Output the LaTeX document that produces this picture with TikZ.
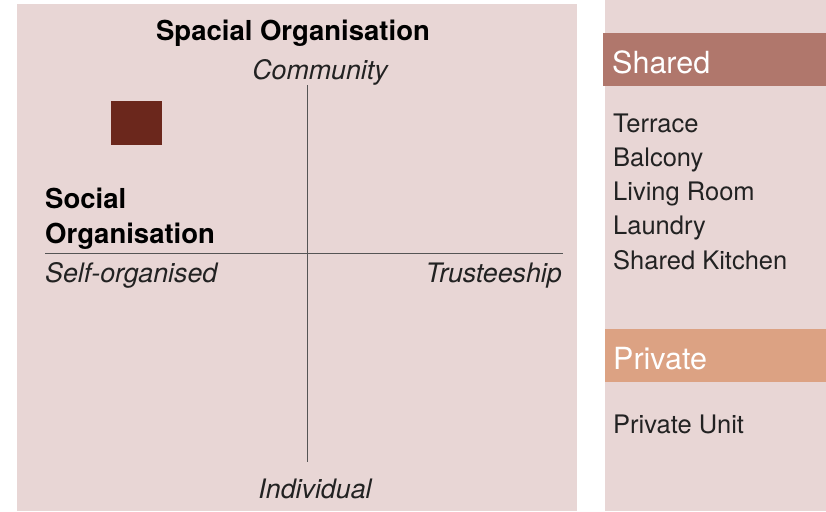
\documentclass[tikz,border=0pt]{standalone}
\usepackage{fontspec}
\setmainfont{TeX Gyre Heros}
\definecolor{panelbg}{HTML}{E8D6D5}
\definecolor{sharedc}{HTML}{B0776C}
\definecolor{privc}{HTML}{DCA283}
\definecolor{squarec}{HTML}{6B271C}
\definecolor{textc}{HTML}{222222}
\definecolor{axisc}{HTML}{555555}
\tikzset{
  title/.style={font=\fontsize{27.5}{32}\selectfont\bfseries, text=black, inner sep=0pt},
  axlabel/.style={font=\fontsize{26.8}{31}\selectfont\itshape, text=textc, inner sep=0pt},
  item/.style={font=\fontsize{25.5}{30}\selectfont, text=textc, inner sep=0pt, anchor=base west},
  header/.style={font=\fontsize{30.5}{35}\selectfont, text=white, inner sep=0pt, anchor=base west},
  axis/.style={draw=axisc, line width=1pt},
}
\begin{document}
\begin{tikzpicture}[x=1pt,y=-1pt]
\useasboundingbox (0,0) rectangle (826,511);
\fill[white] (0,0) rectangle (826,511);
% panels
\fill[panelbg] (17,4) rectangle (577,511);
\fill[panelbg] (605,0) rectangle (826,511);
\fill[sharedc] (603,33) rectangle (826,86);
\fill[privc] (605,329) rectangle (826,382);
% square
\fill[squarec] (111,101) rectangle (162,145);
% axes
\coordinate (vt) at (307,85);
\coordinate (vb) at (307,462);
\coordinate (hl) at (45,253);
\coordinate (hr) at (563,253);
\draw[axis] (vt) -- (vb);
\draw[axis] (hl) -- (hr);
% labels
\node[title, anchor=base] (spatial) at (293,41) {Spacial Organisation};
\node[axlabel, anchor=base] (comm) at (320,79) {Community};
\node[title, anchor=base west] (social1) at (45,208) {Social};
\node[title, anchor=base west] (social2) at (45,243) {Organisation};
\node[axlabel, anchor=base west] (self) at (45,282) {Self-organised};
\node[axlabel, anchor=base east] (trust) at (562,282) {Trusteeship};
\node[axlabel, anchor=base] (indiv) at (315,498) {Individual};
% right panel
\node[header] (shared) at (612,73) {Shared};
\node[item] (i1) at (613,132) {Terrace};
\node[item] (i2) at (613,166.25) {Balcony};
\node[item] (i3) at (613,200.5) {Living Room};
\node[item] (i4) at (613,234.75) {Laundry};
\node[item] (i5) at (613,269) {Shared Kitchen};
\node[header] (private) at (613,369) {Private};
\node[item] (p1) at (613,433) {Private Unit};
\end{tikzpicture}
\end{document}
